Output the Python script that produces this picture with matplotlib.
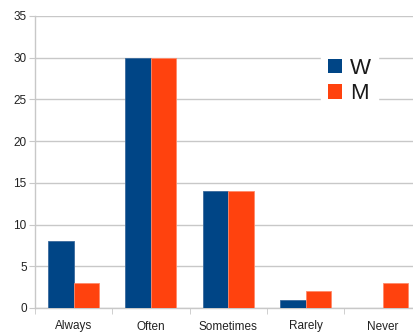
import matplotlib

matplotlib.use("Agg")
import matplotlib.pyplot as plt
import numpy as np
from matplotlib.patches import Patch

categories = ["Always", "Often", "Sometimes", "Rarely", "Never"]
women = [8, 30, 14, 1, 0]
men = [3, 30, 14, 2, 3]
series_names = ["W", "M"]
y_ticks = [0, 5, 10, 15, 20, 25, 30, 35]

COLOR_W = "#004586"
COLOR_M = "#ff420e"
GRID = "#c8c8c8"

plt.rcParams["font.family"] = ["Liberation Sans Narrow", "Liberation Sans", "DejaVu Sans"]

fig = plt.figure(figsize=(4.14, 3.36), dpi=100)
# right edge runs past the canvas, like the exported chart
ax = fig.add_axes([35 / 414, 28 / 336, 386.5 / 414, 292 / 336])

x = np.arange(len(categories))
width = 0.33
ax.bar(x - width / 2, women, width, color=COLOR_W, edgecolor="#3a6a9c",
       linewidth=0.6, zorder=3)
ax.bar(x + width / 2, men, width, color=COLOR_M, edgecolor="#ff8a6a",
       linewidth=0.6, zorder=3)

ax.set_xlim(-0.5, len(categories) - 0.5)
ax.set_ylim(0, 35)
ax.set_yticks(y_ticks)
ax.set_xticks(x)
ax.set_xticklabels(categories)
ax.set_xticks(np.arange(len(categories) + 1) - 0.5, minor=True)

ax.grid(axis="y", color=GRID, linewidth=1.0, zorder=0)
ax.set_axisbelow(True)
for side in ("top", "right"):
    ax.spines[side].set_visible(False)
ax.spines["left"].set_color(GRID)
ax.spines["bottom"].set_color(GRID)
ax.spines["left"].set_linewidth(1.0)
ax.spines["bottom"].set_linewidth(1.0)

ax.tick_params(axis="y", length=4, color=GRID, labelsize=8.5, labelcolor="#222222", pad=2)
ax.tick_params(axis="x", which="major", length=0, labelsize=8.5, labelcolor="#222222", pad=9)
ax.tick_params(axis="x", which="minor", length=4, color=GRID)

handles = [Patch(facecolor=COLOR_W), Patch(facecolor=COLOR_M)]
leg = fig.legend(handles, series_names, loc="upper left",
                 bbox_to_anchor=(310 / 414, 1 - 40 / 336),
                 frameon=True, handlelength=0.65, handleheight=0.65,
                 handletextpad=0.35, labelspacing=0.2, borderpad=0.3,
                 prop={"family": "Liberation Sans", "size": 16})
for text in leg.get_texts():
    text.set_color("#1a1a1a")
leg.get_frame().set_facecolor("white")
leg.get_frame().set_edgecolor("white")
leg.get_frame().set_alpha(1)

fig.savefig("out.png", dpi=100, facecolor="white")
